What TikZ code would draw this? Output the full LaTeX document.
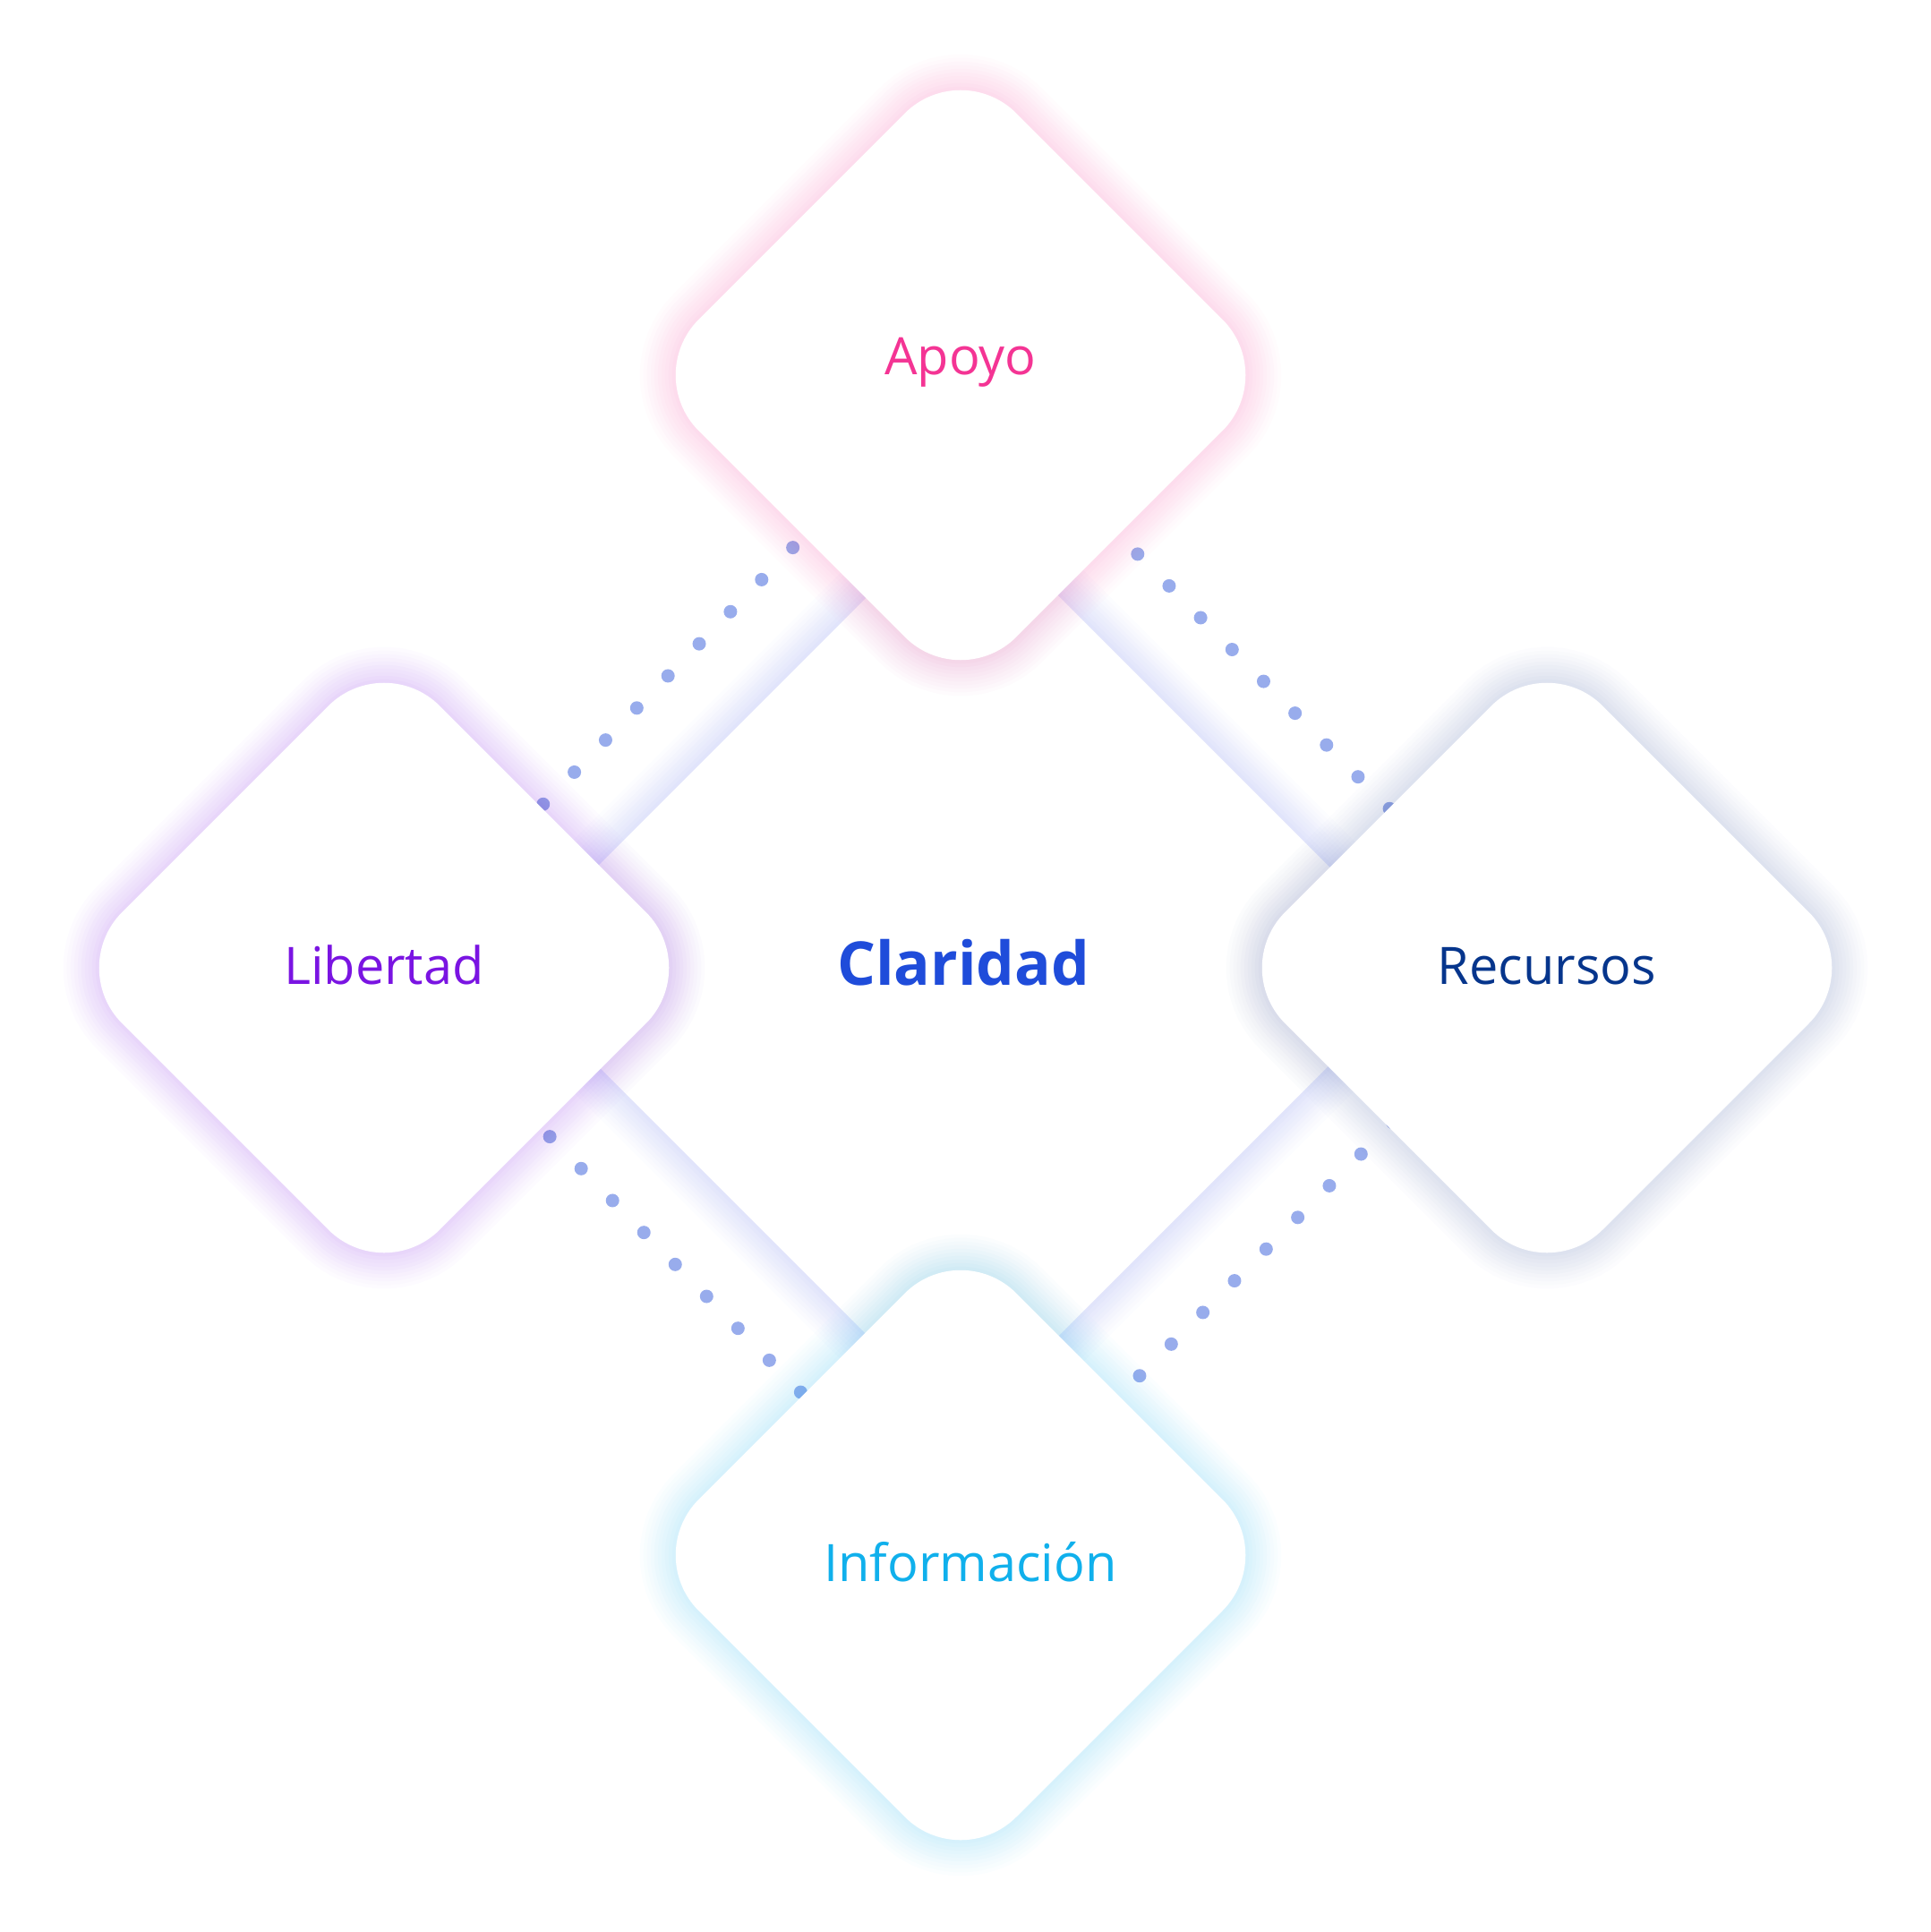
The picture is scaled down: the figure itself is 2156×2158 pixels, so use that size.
\documentclass[tikz,border=0pt]{standalone}
\usepackage{fontspec}
\setmainfont{Open Sans}
\usetikzlibrary{shapes.geometric}
\definecolor{apo}{RGB}{244,52,148}
\definecolor{lib}{RGB}{122,20,226}
\definecolor{rec}{RGB}{6,53,140}
\definecolor{inf}{RGB}{16,176,236}
\definecolor{cla}{RGB}{31,76,218}
\definecolor{recg}{RGB}{60,85,160}
\definecolor{clag}{RGB}{80,100,230}
\definecolor{dotc}{RGB}{152,172,236}
\pgfdeclarelayer{back}
\pgfdeclarelayer{mid}
\pgfsetlayers{back,mid,main}

\begin{document}
\begin{tikzpicture}[x=0.1mm,y=-0.1mm,
  glow/.style={preaction={draw=#1,draw opacity=.016,line width=8mm},
    preaction={draw=#1,draw opacity=.016,line width=7.2mm},
    preaction={draw=#1,draw opacity=.017,line width=6.4mm},
    preaction={draw=#1,draw opacity=.017,line width=5.6mm},
    preaction={draw=#1,draw opacity=.018,line width=4.8mm},
    preaction={draw=#1,draw opacity=.018,line width=4mm},
    preaction={draw=#1,draw opacity=.02,line width=3.2mm},
    preaction={draw=#1,draw opacity=.02,line width=2.4mm},
    preaction={draw=#1,draw opacity=.022,line width=1.6mm},
    preaction={draw=#1,draw opacity=.022,line width=0.8mm}},
  hub/.style={diamond,aspect=1,fill=white,minimum size=104mm,inner sep=0pt,text depth=0pt,
    font=\bfseries\fontsize{19.2}{22}\selectfont},
  sat/.style={diamond,aspect=1,fill=white,minimum size=71mm,inner sep=0pt,rounded corners=8.8mm,
    text depth=0pt,font=\fontsize{16.4}{18}\selectfont},
  link/.style={draw=dotc,line width=1.5mm,line cap=round,dash pattern=on 0mm off 5mm}]
  \useasboundingbox (0,0) rectangle (2156,2158);
  \begin{pgfonlayer}{back}
    \node[hub,glow=clag,text=cla,text height=4.2mm] (claridad) at (1076,1079) {Claridad};
  \end{pgfonlayer}
  \node[sat,glow=apo,text=apo,text height=0mm] (apoyo) at (1073,419) {Apoyo};
  \node[sat,glow=lib,text=lib,text height=3.6mm] (libertad) at (429,1081) {Libertad};
  \node[sat,glow=recg,text=rec,text height=3.6mm] (recursos) at (1728,1081) {Recursos};
  \node[sat,glow=inf,text=inf,text height=5.8mm] (informacion) at (1073,1737) {\hspace*{2.2mm}Información};
  % dotted links between the outer diamonds
  \begin{pgfonlayer}{mid}
    \draw[link,dash phase=3.13mm] (apoyo.center) -- (libertad.center);
    \draw[link,dash phase=1.88mm] (apoyo.center) -- (recursos.center);
    \draw[link,dash phase=3.57mm] (libertad.center) -- (informacion.center);
    \draw[link,dash phase=0.6mm] (recursos.center) -- (informacion.center);
  \end{pgfonlayer}
\end{tikzpicture}
\end{document}
